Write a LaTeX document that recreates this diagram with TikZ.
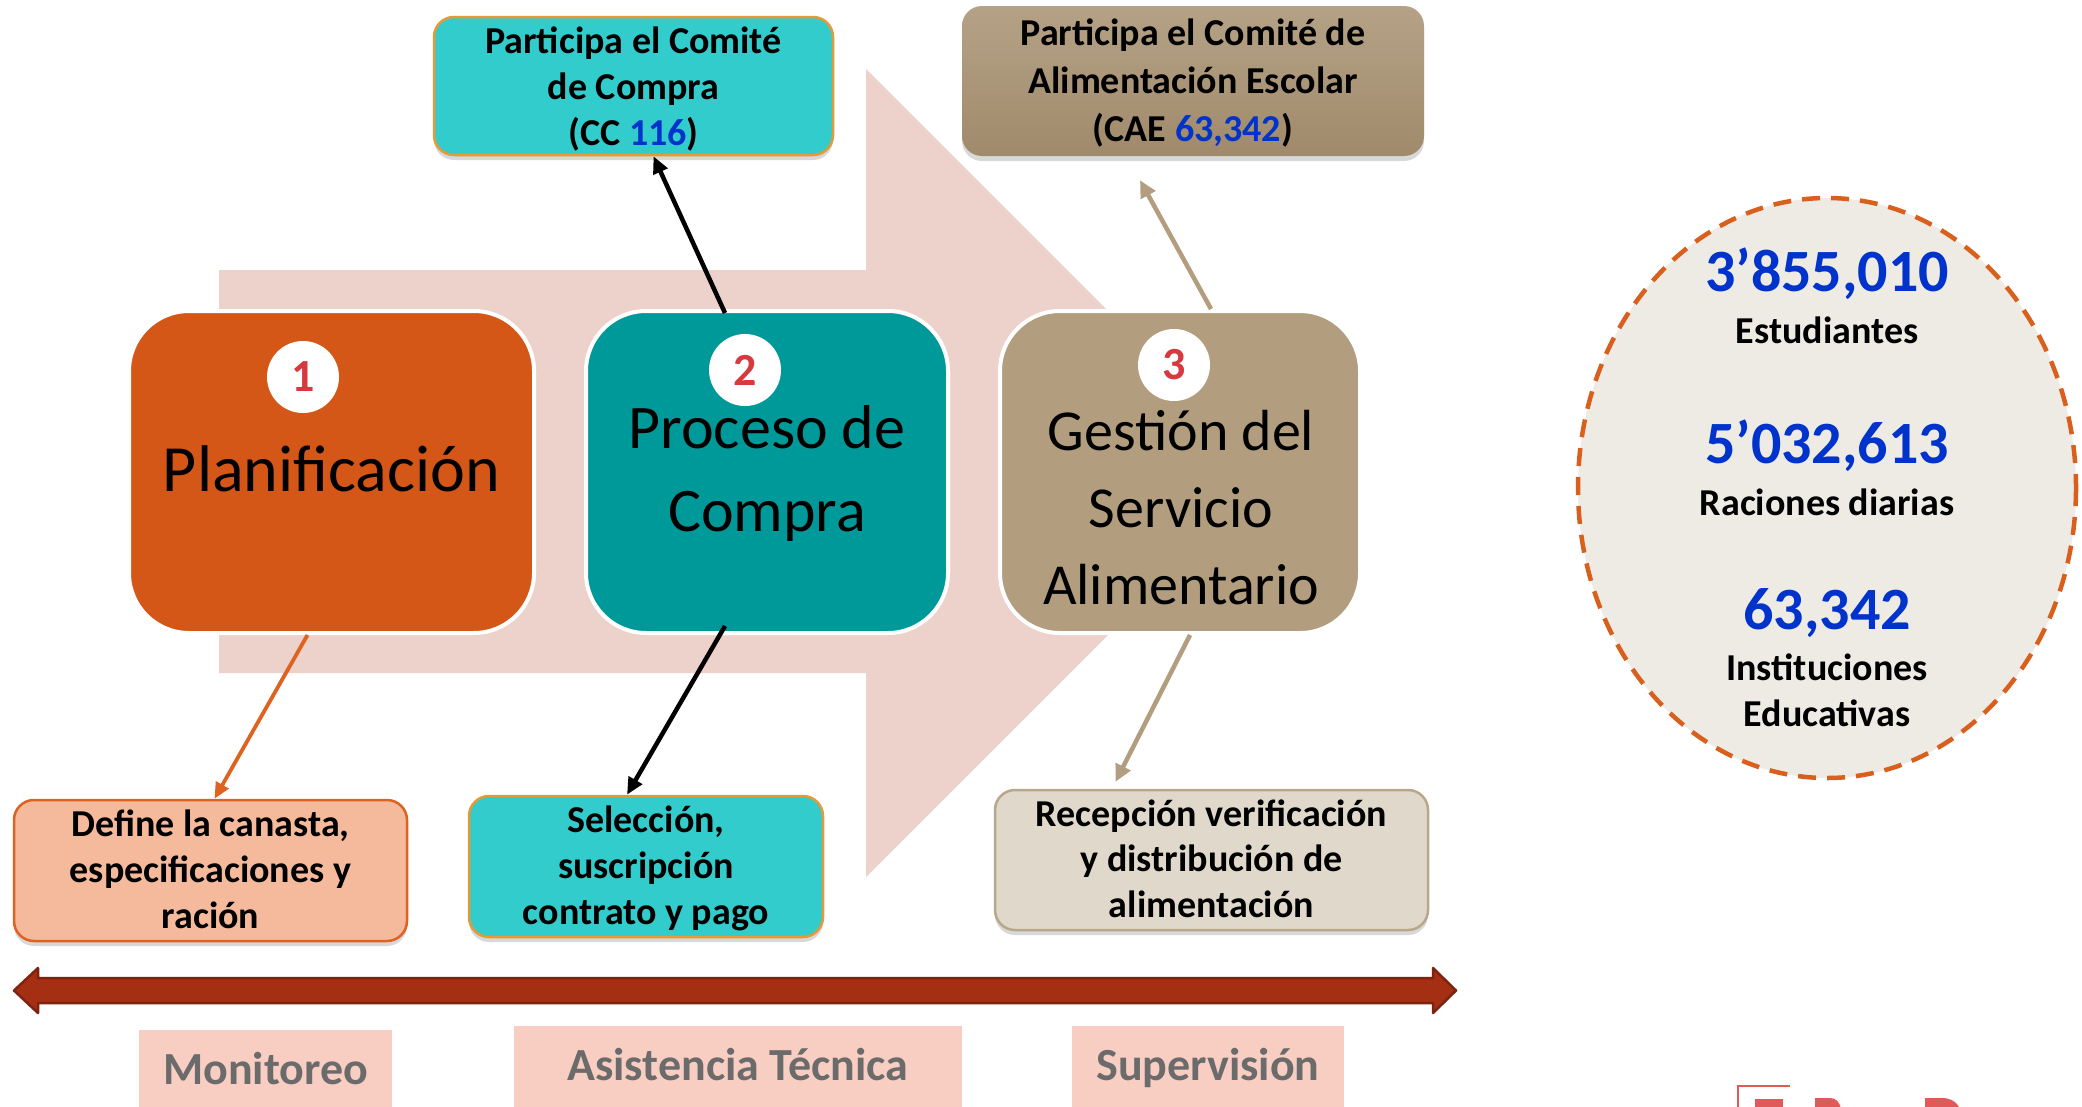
\documentclass[tikz,border=0pt]{standalone}
\usepackage{fontspec}
\setmainfont{Carlito}
\usetikzlibrary{shadows,calc,arrows.meta}
\definecolor{pinkarrow}{HTML}{EDD2CC}
\definecolor{orangeA}{HTML}{D55718}
\definecolor{tealA}{HTML}{009999}
\definecolor{tanA}{HTML}{B29D7E}
\definecolor{cyanL}{HTML}{33CCCC}
\definecolor{goldB}{HTML}{E39A37}
\definecolor{salmonB}{HTML}{F5BA9C}
\definecolor{orangeB}{HTML}{DE6220}
\definecolor{beigeB}{HTML}{E0D9CB}
\definecolor{tanB}{HTML}{B9A78B}
\definecolor{numred}{HTML}{D63A3F}
\definecolor{blueN}{HTML}{0033CC}
\definecolor{labelbg}{HTML}{F8CEC3}
\definecolor{labeltx}{HTML}{6B6B6B}
\definecolor{ellfill}{HTML}{EEEBE5}
\definecolor{ellline}{HTML}{D95F1D}
\definecolor{barfill}{HTML}{A52F12}
\definecolor{barline}{HTML}{7F2210}
\definecolor{caetop}{HTML}{B5A286}
\definecolor{caebot}{HTML}{A08A6B}
\definecolor{logored}{HTML}{E05A5A}
\newcommand\fsz[2]{\fontsize{#1}{#2}\selectfont}
\begin{document}
\begin{tikzpicture}[x=1pt,y=-1pt,
  bigbox/.style={draw=white, line width=4pt, rounded corners=60pt, inner sep=0pt},
  numcirc/.style={circle, fill=white, minimum size=72pt, inner sep=0pt, text=numred, font=\bfseries\fsz{46}{46}},
  smallbox/.style={rounded corners=20pt, line width=2.5pt, inner sep=0pt,
     drop shadow={opacity=0.3, shadow xshift=0pt, shadow yshift=-5pt}},
  boxtext/.style={anchor=base, align=center, font=\bfseries\fsz{38}{46}},
  bigtext/.style={anchor=base, align=center},
  lbltext/.style={anchor=base, text=labeltx, font=\bfseries\fsz{46}{46}},
  ellnum/.style={anchor=base, text=blueN, font=\bfseries\fsz{60}{60}},
  elltext/.style={anchor=base, align=center, font=\bfseries\fsz{38}{46}},
  blackarr/.style={line width=4.5pt, black, -{Triangle[length=17pt,width=15pt]}},
  orangearr/.style={line width=3.8pt, orangeB, -{Triangle[length=16pt,width=14pt]}},
  tanarr/.style={line width=4.5pt, tanA, -{Triangle[length=17pt,width=16pt]}}
]
\useasboundingbox (0,0) rectangle (2082,1106);
\fill[white] (0,0) rectangle (2082,1106);

% big background arrow
\fill[pinkarrow] (219,270) -- (866,270) -- (866,69) -- (1270,473) -- (866,877) -- (866,673) -- (219,673) -- cycle;

% main boxes
\node[bigbox, fill=orangeA, minimum width=405, minimum height=322] (b1) at (331.5,472) {};
\node[bigbox, fill=tealA, minimum width=362, minimum height=322] (b2) at (767,472) {};
\node[bigbox, fill=tanA, minimum width=360, minimum height=322] (b3) at (1180,472) {};

% (multi-line texts are placed by the baseline of their last line)
\node[bigtext, font=\fsz{66}{80}] (t1) at (331.5,491) {Planificación};
\node[bigtext, font=\fsz{62}{83}] (t2) at (767,531) {Proceso de\\Compra};
\node[bigtext, font=\fsz{58}{77}] (t3) at (1181,604) {Gestión del\\Servicio\\Alimentario};

\node[numcirc] (n1) at (303,377) {1};
\node[numcirc] (n2) at (745,370) {2};
\node[numcirc] (n3) at (1174,365) {3};

% top boxes
\node[smallbox, fill=cyanL, draw=goldB, minimum width=399, minimum height=138] (cc) at (633.5,86) {};
\node[boxtext] (cct) at (633.5,145) {Participa el Comité\\de Compra\\(CC \textcolor{blueN}{116})};

\node[smallbox, top color=caetop, bottom color=caebot, minimum width=462, minimum height=150] (cae) at (1193,81) {};
\node[boxtext, font=\bfseries\fsz{38}{48}] (caet) at (1193,141) {Participa el Comité de\\Alimentación Escolar\\(CAE \textcolor{blueN}{63,342})};

% bottom boxes
\node[smallbox, fill=salmonB, draw=orangeB, minimum width=393, minimum height=141] (bb1) at (210.5,870.5) {};
\node[boxtext] (bb1t) at (210.5,928) {Define la canasta,\\especificaciones y\\ración};

\node[smallbox, fill=cyanL, draw=goldB, minimum width=354, minimum height=141] (bb2) at (646,866.5) {};
\node[boxtext] (bb2t) at (646,924) {Selección,\\suscripción\\contrato y pago};

\node[smallbox, fill=beigeB, draw=tanB, minimum width=433, minimum height=140] (bb3) at (1211.5,860) {};
\node[boxtext, font=\bfseries\fsz{38}{45.5}] (bb3t) at (1211.5,917) {Recepción verificación\\y distribución de\\alimentación};

% connectors
\coordinate (caeend) at ($(cae.south)+(-53,23)$);
\coordinate (bb3end) at ($(bb3.north)+(-96,-7)$);
\draw[blackarr] ([xshift=-42pt,yshift=-4pt]b2.north) -- ([xshift=20pt]cc.south);
\draw[blackarr] ([xshift=-42pt,yshift=9pt]b2.south) -- ([xshift=-19pt]bb2.north);
\draw[orangearr] ([xshift=-24pt]b1.south) -- ([xshift=4pt]bb1.north);
\draw[tanarr] ([xshift=31pt]b3.north) -- (caeend);
\draw[tanarr] ([xshift=10pt]b3.south) -- (bb3end);

% double arrow bar
\filldraw[fill=barfill, draw=barline, line width=2.5pt, line join=round]
  (14,990.5) -- (38,968) -- (38,978) -- (1433,978) -- (1433,968) -- (1456,990.5)
  -- (1433,1013) -- (1433,1003) -- (38,1003) -- (38,1013) -- cycle;

% bottom labels
\fill[labelbg] (139,1030) rectangle (392,1110);
\fill[labelbg] (514,1026) rectangle (962,1110);
\fill[labelbg] (1072,1026) rectangle (1344,1110);
\node[lbltext] (l1) at (265.5,1084) {Monitoreo};
\node[lbltext] (l2) at (738,1080) {Asistencia Técnica};
\node[lbltext] (l3) at (1208,1080) {Supervisión};

% ellipse with figures
\draw[fill=ellfill, draw=ellline, line width=4.5pt, dash pattern=on 18pt off 11pt]
  (1827,488) ellipse [x radius=249, y radius=290];
\node[ellnum] (e1) at (1827,291) {3’855,010};
\node[elltext] (e1t) at (1827,343) {Estudiantes};
\node[ellnum] (e2) at (1827,463) {5’032,613};
\node[elltext] (e2t) at (1827,515) {Raciones diarias};
\node[ellnum] (e3) at (1827,629) {63,342};
\node[elltext] (e3t) at (1827,726) {Instituciones\\Educativas};

% logo fragments (cut off at the bottom edge)
\draw[logored, line width=2pt] (1738,1110) -- (1738,1086) -- (1790,1086);
\fill[logored] (1755,1099) rectangle (1783,1110);
\fill[logored] (1815,1110) -- (1815,1098) -- (1830,1098) .. controls (1836,1098) and (1840,1102) .. (1841,1110) -- cycle;
\fill[logored] (1925,1110) -- (1925,1098) -- (1942,1098) .. controls (1950,1098) and (1958,1102) .. (1960,1110) -- cycle;
\end{tikzpicture}
\end{document}
